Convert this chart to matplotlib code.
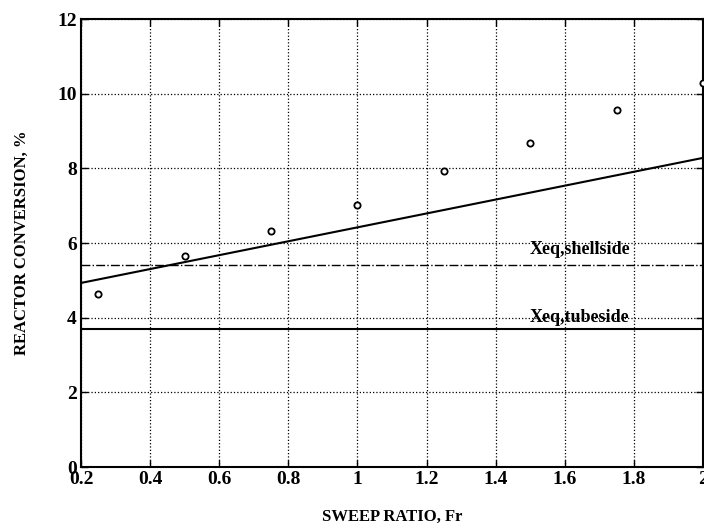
import matplotlib
matplotlib.use("Agg")
import matplotlib.pyplot as plt
import numpy as np

plt.rcParams['font.family'] = ['Liberation Serif', 'DejaVu Serif']
plt.rcParams['font.weight'] = 'bold'

sweep_ratio = [0.25, 0.5, 0.75, 1.0, 1.25, 1.5, 1.75, 2.0]
conversion = [4.63, 5.65, 6.32, 7.02, 7.93, 8.68, 9.55, 10.28]
model_x = [0.2, 2.0]
model_y = [4.93, 8.28]
xeq_shellside = 5.41
xeq_tubeside = 3.69
xticks = [0.2, 0.4, 0.6, 0.8, 1.0, 1.2, 1.4, 1.6, 1.8, 2.0]
xticklabels = ['0.2', '0.4', '0.6', '0.8', '1', '1.2', '1.4', '1.6', '1.8', '2']
yticks = [0, 2, 4, 6, 8, 10, 12]

fig = plt.figure(figsize=(7.04, 5.26), dpi=100)
ax = fig.add_axes([81/704, 1-467/526, 622/704, 448/526])

ax.plot(sweep_ratio, conversion, 'o', mfc='white', mec='black', ms=4.5, mew=1.3, clip_on=False, zorder=5)
ax.plot(model_x, model_y, '-', color='black', lw=1.5)
ax.axhline(xeq_shellside, color='black', lw=1.0, ls='-.')
ax.axhline(xeq_tubeside, color='black', lw=1.5, ls='-')

ax.text(1.497, xeq_shellside + 0.42, 'Xeq,shellside', fontsize=13, fontweight='bold', ha='left', va='center')
ax.text(1.497, xeq_tubeside + 0.32, 'Xeq,tubeside', fontsize=13, fontweight='bold', ha='left', va='center')

ax.set_xlim(0.2, 2.0)
ax.set_ylim(0, 12)
ax.set_xticks(xticks)
ax.set_xticklabels(xticklabels)
ax.set_yticks(yticks)
ax.grid(True, color='black', ls=':', lw=0.9)
ax.tick_params(direction='in', length=5, width=1, top=True, right=True, labelsize=14, pad=3)
for s in ax.spines.values():
    s.set_linewidth(1.5)

ax.set_xlabel('SWEEP RATIO, Fr', fontsize=12, fontweight='bold', labelpad=15)
ax.set_ylabel('REACTOR CONVERSION, %', fontsize=12, fontweight='bold', labelpad=20)

fig.savefig('out.png', dpi=100)
